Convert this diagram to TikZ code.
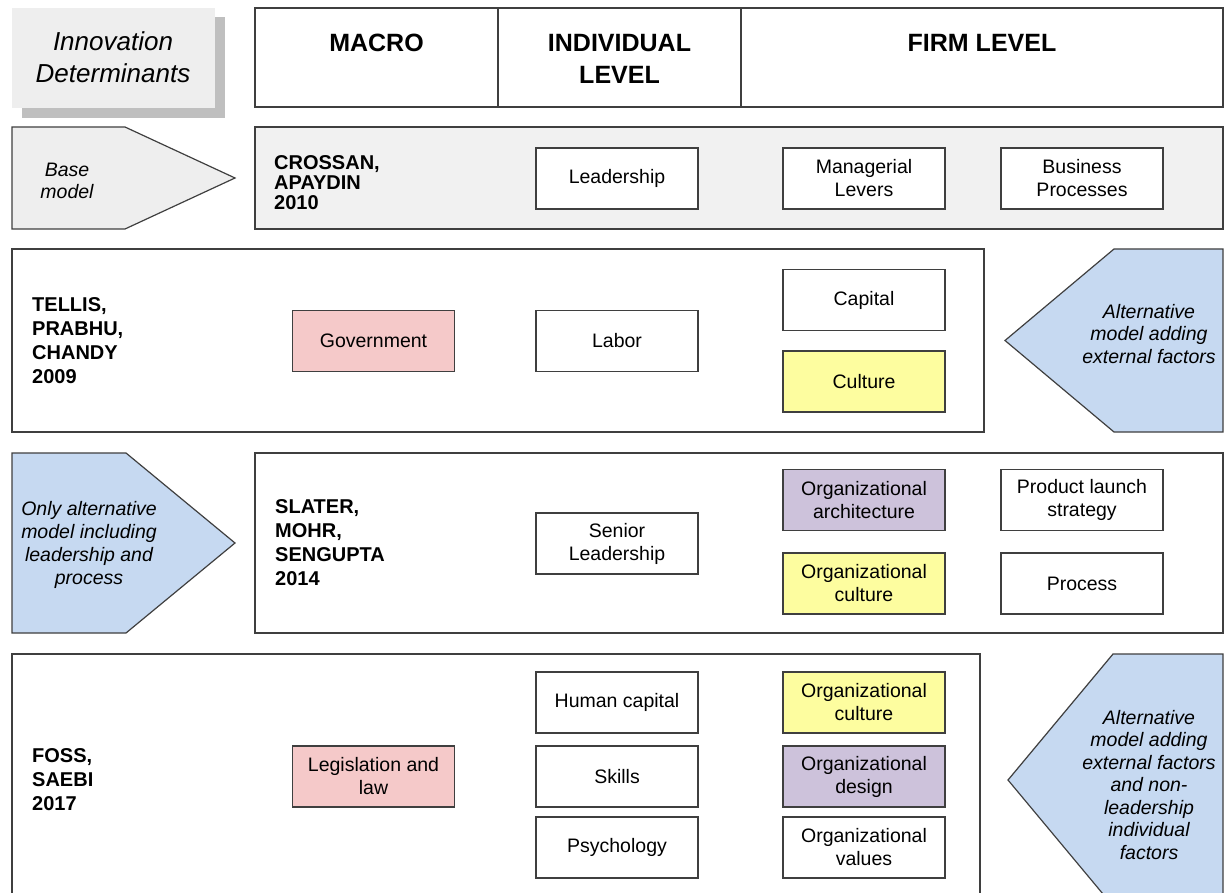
\documentclass[tikz,border=0pt]{standalone}
\usepackage{fontspec}
\setmainfont{Liberation Sans}
\definecolor{edge}{HTML}{3F3F3F}
\definecolor{panelgray}{HTML}{F1F1F1}
\definecolor{headgray}{HTML}{EEEEEE}
\definecolor{shadowgray}{HTML}{BFBFBF}
\definecolor{arrowblue}{HTML}{C6D9F1}
\definecolor{macropink}{HTML}{F5C9C9}
\definecolor{cultyellow}{HTML}{FDFD9F}
\definecolor{orgpurple}{HTML}{CDC2DB}
\begin{document}
\begin{tikzpicture}[x=1pt,y=-1pt,
  frame/.style={draw=edge, line width=1.2pt},
  cell/.style={draw=edge, line width=1.2pt, fill=white, minimum width=162pt,
    minimum height=61pt, inner sep=0pt, align=center,
    font=\fontsize{19.5}{23}\selectfont},
  author/.style={anchor=west, align=left, inner sep=0pt,
    font=\bfseries\fontsize{20}{24}\selectfont},
  note/.style={align=center, inner sep=0pt,
    font=\itshape\fontsize{19.5}{23}\selectfont},
  tightnote/.style={note, font=\itshape\fontsize{19.5}{22.5}\selectfont},
  head/.style={align=center, inner sep=0pt,
    font=\bfseries\fontsize{25}{32}\selectfont}]
\useasboundingbox (0,0) rectangle (1228,893);
\clip (0,0) rectangle (1228,893);

% title card with drop shadow
\fill[shadowgray] (22,17) rectangle (225,118);
\fill[headgray] (12,8) rectangle (215,108);
\node[align=center, inner sep=0pt, font=\itshape\fontsize{26}{31.5}\selectfont]
  (innov) at (113,57) {Innovation\\Determinants};

% column header table
\draw[frame, fill=white] (255,8) rectangle (1223,107);
\draw[frame] (498,8) -- (498,107);
\draw[frame] (741,8) -- (741,107);
\node[head] (hmacro) at (376.5,43) {MACRO};
\node[head] (hindiv) at (619.5,59) {INDIVIDUAL\\LEVEL};
\node[head] (hfirm) at (982,43) {FIRM LEVEL};

% row 1: base model
\draw[frame, fill=headgray] (12,127) -- (125,127) -- (235,178) -- (125,229) -- (12,229) -- cycle;
\node[note, font=\itshape\fontsize{19.5}{22}\selectfont] (base) at (67,181) {Base\\model};
\draw[frame, fill=panelgray] (255,127) rectangle (1223,229);
\node[author, font=\bfseries\fontsize{20}{20}\selectfont] (crossan) at (274,183) {CROSSAN,\\APAYDIN\\2010};
\node[cell] (lead) at (617,178.5) {Leadership};
\node[cell] (manlev) at (864,178.5) {Managerial\\Levers};
\node[cell] (busproc) at (1082,178.5) {Business\\Processes};

% row 2
\draw[frame, fill=white] (12,249) rectangle (984,432);
\node[author] (tellis) at (32,341) {TELLIS,\\PRABHU,\\CHANDY\\2009};
\node[cell, fill=macropink] (gov) at (373.5,341) {Government};
\node[cell] (labor) at (617,341) {Labor};
\node[cell] (capital) at (864,300) {Capital};
\node[cell, fill=cultyellow] (culture) at (864,381.5) {Culture};
\draw[frame, fill=arrowblue] (1005,340.5) -- (1114,249) -- (1223,249) -- (1223,432) -- (1114,432) -- cycle;
\node[tightnote] (altext) at (1149,334) {Alternative\\model adding\\external factors};

% row 3
\draw[frame, fill=arrowblue] (12,453) -- (126,453) -- (235,543) -- (126,633) -- (12,633) -- cycle;
\node[note] (onlyalt) at (89,545) {Only alternative\\model including\\leadership and\\process};
\draw[frame, fill=white] (255,453) rectangle (1223,633);
\node[author] (slater) at (275,543) {SLATER,\\MOHR,\\SENGUPTA\\2014};
\node[cell] (senior) at (617,543.5) {Senior\\Leadership};
\node[cell, fill=orgpurple] (orgarch) at (864,500) {Organizational\\architecture};
\node[cell, fill=cultyellow] (orgcultA) at (864,583.5) {Organizational\\culture};
\node[cell] (prodlaunch) at (1082,500) {Product launch\\strategy};
\node[cell] (process) at (1082,583.5) {Process};

% row 4
\draw[frame, fill=white] (12,654) rectangle (980,910);
\node[author] (foss) at (32,780) {FOSS,\\SAEBI\\2017};
\node[cell, fill=macropink] (legis) at (373.5,776.5) {Legislation and\\law};
\node[cell] (human) at (617,702.5) {Human capital};
\node[cell] (skills) at (617,776.5) {Skills};
\node[cell] (psych) at (617,847.5) {Psychology};
\node[cell, fill=cultyellow] (orgcultB) at (864,702.5) {Organizational\\culture};
\node[cell, fill=orgpurple] (orgdesign) at (864,776.5) {Organizational\\design};
\node[cell] (orgvalues) at (864,847.5) {Organizational\\values};
\draw[frame, fill=arrowblue] (1008,780) -- (1113,654) -- (1223,654) -- (1223,906) -- (1113,906) -- cycle;
\node[tightnote] (altext2) at (1149,785) {Alternative\\model adding\\external factors\\and non-\\leadership\\individual\\factors};
\end{tikzpicture}
\end{document}
